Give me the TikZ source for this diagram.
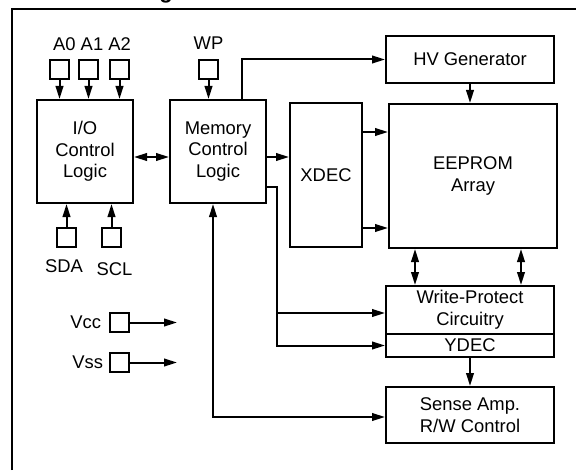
\documentclass[tikz,border=0pt]{standalone}
\usepackage{fontspec}
\setmainfont{Liberation Sans}
\usetikzlibrary{arrows.meta, positioning}
\definecolor{LineBlack}{RGB}{  0,  0,  0}
\definecolor{BlockBg}  {RGB}{255,255,255}
\tikzset{
  % Functional block of the chip
  block/.style={
    rectangle, fill=BlockBg, draw=LineBlack, line width=1pt,
    font=\fontsize{9.2}{10.8}\selectfont, text=LineBlack,
    inner sep=0pt, align=center
  },
  % Small square pin
  pinbox/.style={
    rectangle, draw=LineBlack, line width=1pt,
    inner sep=0pt, minimum size=9.5pt
  },
  % Pin name
  pinlabel/.style={
    font=\fontsize{9.2}{10.8}\selectfont, text=LineBlack,
    inner sep=0pt
  },
  % One-way signal arrows
  sigarrow/.style={
    -{Triangle[length=6.5pt, width=3.8pt]}, line width=1pt, color=LineBlack
  },
  % Two-way arrows
  busarrow/.style={
    {Triangle[length=6.5pt, width=3.8pt]}-{Triangle[length=6.5pt, width=3.8pt]},
    line width=1pt, color=LineBlack
  }
}
\newcommand{\PinBox}[2]{
  \node[pinbox] (#1) at (#2) {};
}

\begin{document}
\begin{tikzpicture}[x=0.5pt, y=-0.5pt]
  \useasboundingbox (0,0) rectangle (576,470);

  % ── Frame and cropped title ───────────────────────────────────────────────
  \draw[line width=1.25pt, LineBlack] (12,470) -- (12,9) -- (576,9);
  \node[font=\fontsize{11}{13}\selectfont\bfseries, anchor=base,
        inner sep=0pt] (title) at (166,-1.3) {g};

  % ── Blocks ────────────────────────────────────────────────────────────────
  \node[block, minimum width=48pt, minimum height=51.5pt] (io)
        at (85,151.5) {I/O\\Control\\Logic};
  \node[block, minimum width=48pt, minimum height=51.5pt] (mem)
        at (218,151.5) {Memory\\Control\\Logic};
  \node[block, minimum width=36pt, minimum height=72pt] (xdec)
        at (326,175) {XDEC};
  \node[block, minimum width=84pt, minimum height=23.5pt] (hv)
        at (470,59.5) {HV Generator};
  \node[block, minimum width=84pt, minimum height=72pt] (eeprom)
        at (473,176) {EEPROM\\Array};
  \node[block, minimum width=84pt, minimum height=24pt] (wpc)
        at (470,310) {Write-Protect\\Circuitry};
  \node[block, minimum width=84pt, minimum height=11.5pt] (ydec)
        at (470,345.5) {YDEC};
  \node[block, minimum width=84pt, minimum height=28pt] (sense)
        at (470,415) {Sense Amp.\\R/W Control};

  % ── Pins ──────────────────────────────────────────────────────────────────
  \PinBox{a0}{59.5,69.5}
  \PinBox{a1}{88.5,69.5}
  \PinBox{a2}{119.5,69.5}
  \PinBox{wp}{208.5,69.5}
  \PinBox{sda}{66.5,237}
  \PinBox{scl}{111.5,237}
  \PinBox{vcc}{119,322.5}
  \PinBox{vss}{119,362.5}

  % ── Pin names ─────────────────────────────────────────────────────────────
  \node[pinlabel, above=4pt of a1, xshift=1.75pt] (a_lbl) {A0 A1 A2};
  \node[pinlabel, above=4.5pt of wp] (wp_lbl) {WP};
  \node[pinlabel, below=5.75pt of sda, xshift=-1.25pt] (sda_lbl) {SDA};
  \node[pinlabel, below=7.25pt of scl, xshift=1.5pt] (scl_lbl) {SCL};
  \node[pinlabel, left=3.5pt of vcc] (vcc_lbl) {Vcc};
  \node[pinlabel, left=2.5pt of vss] (vss_lbl) {Vss};

  % ── Helper points ─────────────────────────────────────────────────────────
  \coordinate (bus_y)   at (0,157);
  \coordinate (hv_x)    at ([xshift=12pt]mem.north);
  \coordinate (xd_hi)   at ([yshift=21.5pt]xdec.east);
  \coordinate (xd_lo)   at ([yshift=-26.5pt]xdec.east);
  \coordinate (ee_l)    at ([xshift=-29pt]eeprom.south);
  \coordinate (ee_r)    at ([xshift=24pt]eeprom.south);
  \coordinate (mem_low) at ([yshift=-17.75pt]mem.east);
  \coordinate (split_x) at (277,0);
  \coordinate (wpc_in)  at ([yshift=-1.5pt]wpc.west);
  \coordinate (mem_bot) at ([xshift=-2.5pt]mem.south);
  \coordinate (sense_in) at ([yshift=-1pt]sense.west);
  \coordinate (pwr_x)   at (177,0);

  % ── Pin arrows ────────────────────────────────────────────────────────────
  \foreach \p in {a0,a1,a2}
    \draw[sigarrow] (\p.south) -- (\p.south |- io.north);
  \draw[sigarrow] (wp.south) -- (wp.south |- mem.north);
  \foreach \p in {sda,scl}
    \draw[sigarrow] (\p.north) -- (\p.north |- io.south);
  \draw[sigarrow] (vcc.east) -- (vcc.east -| pwr_x);
  \draw[sigarrow] (vss.east) -- (vss.east -| pwr_x);

  % ── Block arrows ──────────────────────────────────────────────────────────
  \draw[busarrow] (io.east |- bus_y) -- (mem.west |- bus_y);
  \draw[sigarrow] (mem.east |- bus_y) -- (xdec.west |- bus_y);
  \draw[sigarrow] (hv_x) |- (hv.west);
  \draw[sigarrow] (hv.south) -- (hv.south |- eeprom.north);
  \draw[sigarrow] (xd_hi) -- (xd_hi -| eeprom.west);
  \draw[sigarrow] (xd_lo) -- (xd_lo -| eeprom.west);
  \draw[busarrow] (ee_l) -- (ee_l |- wpc.north);
  \draw[busarrow] (ee_r) -- (ee_r |- wpc.north);

  % Memory control to write-protect and YDEC
  \draw[sigarrow] (mem_low) -- (mem_low -| split_x) |- (ydec.west);
  \draw[sigarrow] (split_x |- wpc_in) -- (wpc_in);
  \draw[sigarrow] (ydec.south) -- (sense.north);

  % Memory control to sense amp
  \draw[busarrow] (mem_bot) |- (sense_in);

\end{tikzpicture}
\end{document}
